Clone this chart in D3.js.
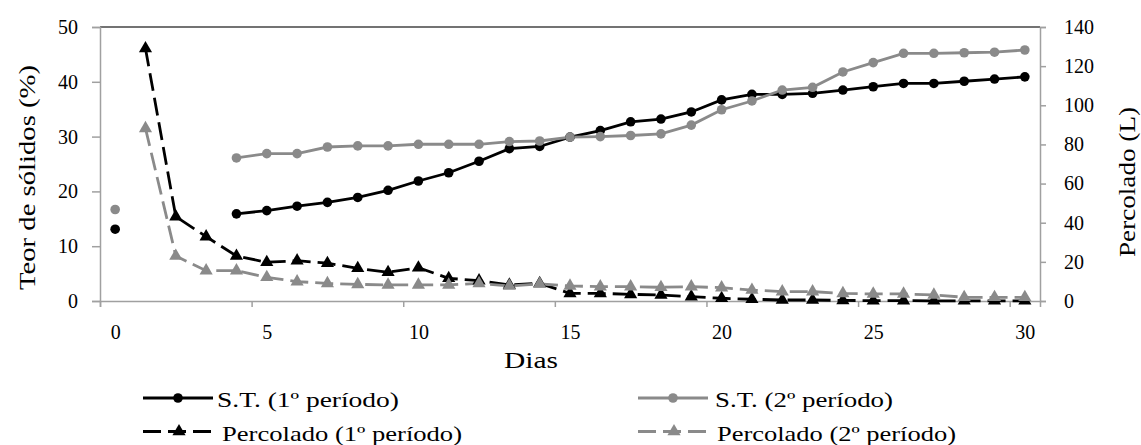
<!DOCTYPE html>
<html>
<head>
<meta charset="utf-8">
<script src="https://cdn.jsdelivr.net/npm/d3@7"></script>
<style>
  body { margin: 0; background: #fff; }
  svg text { font-family: "Liberation Serif", "DejaVu Serif", serif; fill: #000; }
</style>
</head>
<body>
<div id="chart"></div>
<script>
// days 0..30 (category axis)
var days = d3.range(0, 31);
var xLabels = [0, 5, 10, 15, 20, 25, 30];
var leftTicks = [0, 10, 20, 30, 40, 50];
var rightTicks = [0, 20, 40, 60, 80, 100, 120, 140];

// Teor de sólidos (%) - left axis
var stP1 = [13.1, null, null, null, 15.9, 16.5, 17.3, 18.0, 18.9, 20.2, 21.9, 23.4, 25.5, 27.8, 28.2, 29.9,
            31.1, 32.7, 33.2, 34.5, 36.7, 37.7, 37.7, 37.9, 38.5, 39.1, 39.7, 39.7, 40.1, 40.5, 40.9];
var stP2 = [16.7, null, null, null, 26.1, 26.9, 26.9, 28.1, 28.3, 28.3, 28.6, 28.6, 28.6, 29.1, 29.2, 29.9,
            30.0, 30.2, 30.5, 32.1, 34.9, 36.5, 38.5, 39.0, 41.8, 43.5, 45.2, 45.2, 45.3, 45.4, 45.8];
// Percolado (L) - right axis
var percP1 = [null, 129, 43.1, 32.9, 23.0, 19.8, 20.6, 19.3, 16.7, 14.7, 17.0, 11.6, 10.4, 8.2, 9.0, 3.9,
              3.9, 3.4, 3.1, 2.2, 1.4, 0.9, 0.5, 0.5, 0.3, 0.2, 0.2, 0.1, 0.1, 0.1, 0.1];
var percP2 = [null, 88.2, 23.0, 15.5, 15.5, 12.1, 9.9, 9.0, 8.5, 8.2, 8.2, 8.2, 9.0, 7.7, 8.7, 7.7,
              7.3, 7.3, 7.0, 7.3, 6.8, 5.6, 4.8, 4.8, 3.9, 3.6, 3.6, 3.1, 1.9, 1.9, 1.9];

var BLACK = "#000", GRAY = "#8a8a8a";

var series = [
  {name: "S.T. (1º período)", values: stP1, axis: "left", color: BLACK, marker: "circle", dash: null},
  {name: "S.T. (2º período)", values: stP2, axis: "left", color: GRAY, marker: "circle", dash: null},
  {name: "Percolado (1º período)", values: percP1, axis: "right", color: BLACK, marker: "triangle", dash: "18,7"},
  {name: "Percolado (2º período)", values: percP2, axis: "right", color: GRAY, marker: "triangle", dash: "18,7"}
];

var W = 1141, H = 445;
var plot = {left: 100, right: 1040, top: 27, bottom: 301};

var svg = d3.select("#chart").append("svg")
    .attr("width", W).attr("height", H);

var x = d3.scaleLinear().domain([-0.5, 30.5]).range([plot.left, plot.right]);
var yL = d3.scaleLinear().domain([0, 50]).range([plot.bottom, plot.top]);
var yR = d3.scaleLinear().domain([0, 140]).range([plot.bottom, plot.top]);

// top border of plot area
svg.append("line")
    .attr("x1", plot.left).attr("x2", plot.right)
    .attr("y1", plot.top).attr("y2", plot.top)
    .attr("stroke", "#444").attr("stroke-width", 1.5);

// left axis
var gL = svg.append("g")
    .attr("transform", "translate(" + plot.left + ",0)")
    .call(d3.axisLeft(yL).tickValues(leftTicks).tickSize(8).tickPadding(14));
// right axis
var gR = svg.append("g")
    .attr("transform", "translate(" + plot.right + ",0)")
    .call(d3.axisRight(yR).tickValues(rightTicks).tickSize(6).tickPadding(18));
// bottom axis: tick marks between categories
var gB = svg.append("g")
    .attr("transform", "translate(0," + plot.bottom + ")")
    .call(d3.axisBottom(x).tickValues(d3.range(-0.5, 30, 5)).tickSize(6).tickFormat(""));
// bottom axis labels at category centres
var gBL = svg.append("g")
    .attr("transform", "translate(0," + plot.bottom + ")")
    .call(d3.axisBottom(x).tickValues(xLabels).tickSize(0).tickPadding(24));
gBL.select(".domain").remove();

[gL, gR, gB].forEach(function(g) {
  g.select(".domain").attr("stroke", "#a0a0a0").attr("stroke-width", 1.5);
  g.selectAll(".tick line").attr("stroke", "#a0a0a0").attr("stroke-width", 1.5);
});
[gL, gR, gBL].forEach(function(g) {
  g.selectAll(".tick text")
    .style("font-size", "20px")
    .attr("fill", "#000");
});

// axis titles (textLength keeps the widths of the reference)
svg.append("text")
    .attr("transform", "translate(35,177.5) rotate(-90)")
    .attr("text-anchor", "middle")
    .attr("textLength", 225).attr("lengthAdjust", "spacingAndGlyphs")
    .style("font-size", "24px")
    .text("Teor de sólidos (%)");
svg.append("text")
    .attr("transform", "translate(1135,182) rotate(-90)")
    .attr("text-anchor", "middle")
    .attr("textLength", 150).attr("lengthAdjust", "spacingAndGlyphs")
    .style("font-size", "24px")
    .text("Percolado (L)");
svg.append("text")
    .attr("x", 531).attr("y", 368)
    .attr("text-anchor", "middle")
    .attr("textLength", 54).attr("lengthAdjust", "spacingAndGlyphs")
    .style("font-size", "24px")
    .text("Dias");

var tri = d3.symbol().type(d3.symbolTriangle).size(75);

function yFor(s) { return s.axis === "left" ? yL : yR; }

// lines
series.forEach(function(s) {
  var y = yFor(s);
  var line = d3.line()
      .defined(function(d) { return d != null; })
      .x(function(d, i) { return x(days[i]); })
      .y(function(d) { return y(d); });
  svg.append("path")
      .datum(s.values)
      .attr("d", line)
      .attr("fill", "none")
      .attr("stroke", s.color)
      .attr("stroke-width", 2.8)
      .attr("stroke-dasharray", s.dash);
});

// markers
series.forEach(function(s) {
  var y = yFor(s);
  var pts = s.values.map(function(v, i) { return {day: days[i], v: v}; })
      .filter(function(d) { return d.v != null; });
  var g = svg.append("g").attr("fill", s.color);
  if (s.marker === "circle") {
    g.selectAll("circle").data(pts).enter().append("circle")
      .attr("cx", function(d) { return x(d.day); })
      .attr("cy", function(d) { return y(d.v); })
      .attr("r", 4.8);
  } else {
    g.selectAll("path").data(pts).enter().append("path")
      .attr("d", tri)
      .attr("transform", function(d) { return "translate(" + x(d.day) + "," + y(d.v) + ")"; });
  }
});

// legend
var legendPos = [
  {x: 143, y: 398, tx: 217, len: 182}, {x: 638, y: 398, tx: 715, len: 178},
  {x: 143, y: 431.5, tx: 222, len: 240}, {x: 638, y: 431.5, tx: 717, len: 239}
];
series.forEach(function(s, i) {
  var p = legendPos[i];
  var g = svg.append("g");
  g.append("line")
    .attr("x1", p.x).attr("x2", p.x + 70)
    .attr("y1", p.y).attr("y2", p.y)
    .attr("stroke", s.color).attr("stroke-width", 2.8)
    .attr("stroke-dasharray", s.dash);
  if (s.marker === "circle") {
    g.append("circle").attr("cx", p.x + 35).attr("cy", p.y).attr("r", 4.8).attr("fill", s.color);
  } else {
    g.append("path").attr("d", tri)
      .attr("transform", "translate(" + (p.x + 36) + "," + p.y + ")")
      .attr("fill", s.color);
  }
  g.append("text")
    .attr("x", p.tx).attr("y", p.y + 9)
    .attr("textLength", p.len).attr("lengthAdjust", "spacingAndGlyphs")
    .style("font-size", "21px")
    .text(s.name);
});
</script>
</body>
</html>
